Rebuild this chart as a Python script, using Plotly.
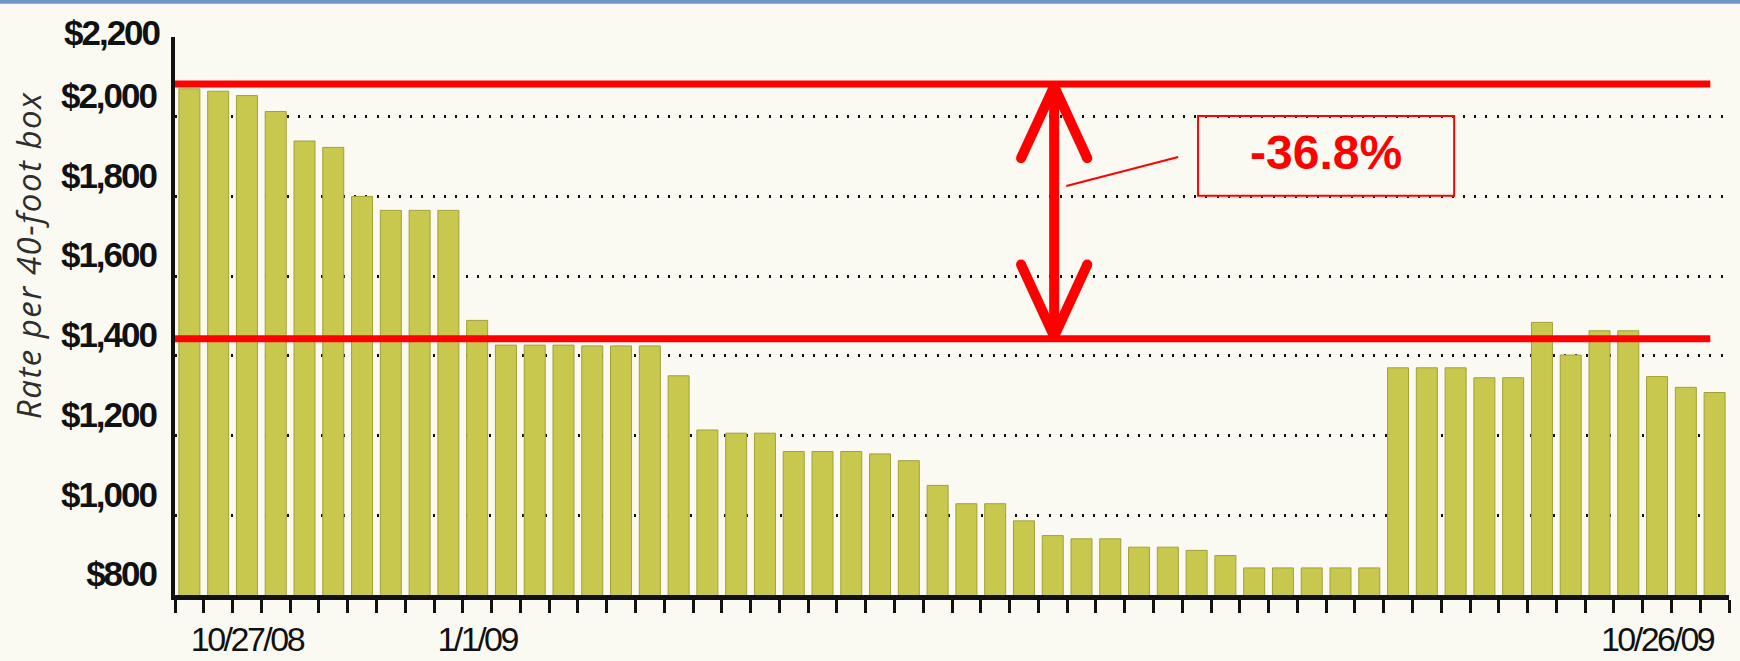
import plotly.graph_objects as go

# Weekly spot rate for a 40-foot container (USD)
rates = [2070, 2064, 2053, 2013, 1939, 1923, 1800, 1765, 1765, 1765,
         1489, 1427, 1427, 1427, 1425, 1425, 1425, 1350, 1214, 1206,
         1206, 1160, 1160, 1160, 1154, 1137, 1075, 1029, 1029, 986,
         949, 941, 941, 920, 920, 912, 899, 868, 868, 868,
         868, 868, 1370, 1370, 1370, 1345, 1345, 1484, 1402, 1463,
         1463, 1348, 1321, 1308]
weeks = list(range(len(rates)))

# Date labels on the x axis (week index -> label)
date_label_weeks = [2, 10, 51]
date_labels = ["10/27/08", "1/1/09", "10/26/09"]

# Rate axis ticks
rate_ticks = [800, 1000, 1200, 1400, 1600, 1800, 2000, 2200]
rate_tick_labels = ["$800", "$1,000", "$1,200", "$1,400", "$1,600",
                    "$1,800", "$2,000", "$2,200"]

# Reference levels marked in red
band_high = 2082
band_low = 1443

change_pct = (rates[-1] / rates[0] - 1) * 100
change_text = f"{change_pct:.1f}%"

BG = "#fafaf3"
BAR = "#c8c84e"
RED = "#ff0000"
INK = "#111111"
SANS = "Liberation Sans, Arial, sans-serif"


def tight(text, spacing):
    """Wrap text in a span with tighter/looser letter spacing."""
    return f"<span style='letter-spacing:{spacing}px'>{text}</span>"


fig = go.Figure()

fig.add_trace(go.Bar(
    x=weeks, y=rates,
    marker=dict(color=BAR, line=dict(color="#a0a03a", width=1)),
    hoverinfo="skip",
))

# Red reference lines across the chart
for lvl in (band_high, band_low):
    fig.add_shape(type="line", xref="x", yref="y",
                  x0=-0.5, x1=52.85, y0=lvl, y1=lvl,
                  line=dict(color=RED, width=7), layer="above")

# Double-headed arrow between the two levels
arrow_x = 30.05
head_dx = 1.15
head_dy = 180
tip_pad = 6
top_tip = band_high - tip_pad
bot_tip = band_low + tip_pad
ax_x = [arrow_x - head_dx, arrow_x, arrow_x + head_dx, None,
        arrow_x, arrow_x, None,
        arrow_x - head_dx, arrow_x, arrow_x + head_dx]
ax_y = [top_tip - head_dy, top_tip, top_tip - head_dy, None,
        top_tip, bot_tip, None,
        bot_tip + head_dy, bot_tip, bot_tip + head_dy]
fig.add_trace(go.Scatter(x=ax_x, y=ax_y, mode="lines",
                         line=dict(color=RED, width=10),
                         hoverinfo="skip"))
fig.add_trace(go.Scatter(
    x=[arrow_x - head_dx, arrow_x + head_dx, arrow_x - head_dx, arrow_x + head_dx],
    y=[top_tip - head_dy, top_tip - head_dy, bot_tip + head_dy, bot_tip + head_dy],
    mode="markers", marker=dict(color=RED, size=10),
    hoverinfo="skip"))

# Leader line to the callout box
fig.add_trace(go.Scatter(x=[30.47, 34.36], y=[1826, 1899], mode="lines",
                         line=dict(color=RED, width=2), hoverinfo="skip"))

# Callout box with the percentage change
box_x = (35.05, 43.95)
box_y = (1802, 2002)
fig.add_shape(type="rect", xref="x", yref="y",
              x0=box_x[0], x1=box_x[1], y0=box_y[0], y1=box_y[1],
              line=dict(color=RED, width=2), layer="above")
fig.add_annotation(x=sum(box_x) / 2, y=sum(box_y) / 2, xref="x", yref="y",
                   text=change_text, showarrow=False, yshift=3,
                   font=dict(family=SANS, size=48, color=RED, weight="bold"))

# Top rate label sits closer to its gridline than the others
fig.add_annotation(x=-0.0077, xref="paper", xanchor="right",
                   y=rate_ticks[-1], yref="y", yshift=5,
                   text=tight(rate_tick_labels[-1], -2), showarrow=False,
                   font=dict(family=SANS, size=35, color=INK, weight="bold"))

# Axis title
fig.add_annotation(x=-0.110, y=0.6083, xref="paper", yref="paper",
                   text=tight("Rate per 40-foot box", 1.5), textangle=-90,
                   showarrow=False,
                   font=dict(family="Open Sans, sans-serif", size=33,
                             color="#2e2e2e", style="italic"))

# Thin blue frame strip along the top edge
fig.add_shape(type="rect", xref="paper", yref="paper",
              x0=-0.12, x1=1.02, y0=1.0595, y1=1.07,
              line=dict(width=0), fillcolor="#6f93c5", layer="above")

fig.update_layout(
    width=1740, height=661,
    margin=dict(l=175, r=11, t=37, b=66),
    paper_bgcolor=BG, plot_bgcolor=BG,
    showlegend=False, bargap=0.27,
    xaxis=dict(
        range=[-0.5, 53.5], tickmode="array",
        tickvals=date_label_weeks,
        ticktext=[tight(t, -2.5) for t in date_labels],
        ticks="", showgrid=False, zeroline=False, automargin=False,
        showline=True, linecolor=INK, linewidth=5,
        tickfont=dict(family=SANS, size=34, color=INK),
        ticklabelstandoff=10,
        minor=dict(tick0=-0.5, dtick=1, ticks="outside", ticklen=13,
                   tickwidth=2.5, tickcolor=INK, showgrid=False),
    ),
    yaxis=dict(
        range=[800, 2200], tickmode="array",
        tickvals=rate_ticks,
        ticktext=[tight(t, -2) for t in rate_tick_labels[:-1]] + [""],
        ticks="", showgrid=True, gridcolor="#111111", gridwidth=2.5,
        griddash="2px,9.2px", zeroline=False, automargin=False,
        showline=True, linecolor=INK, linewidth=4,
        ticklabelshift=-21, ticklabelstandoff=8,
        tickfont=dict(family=SANS, size=35, color=INK, weight="bold"),
    ),
)

fig.write_html("out.html")
